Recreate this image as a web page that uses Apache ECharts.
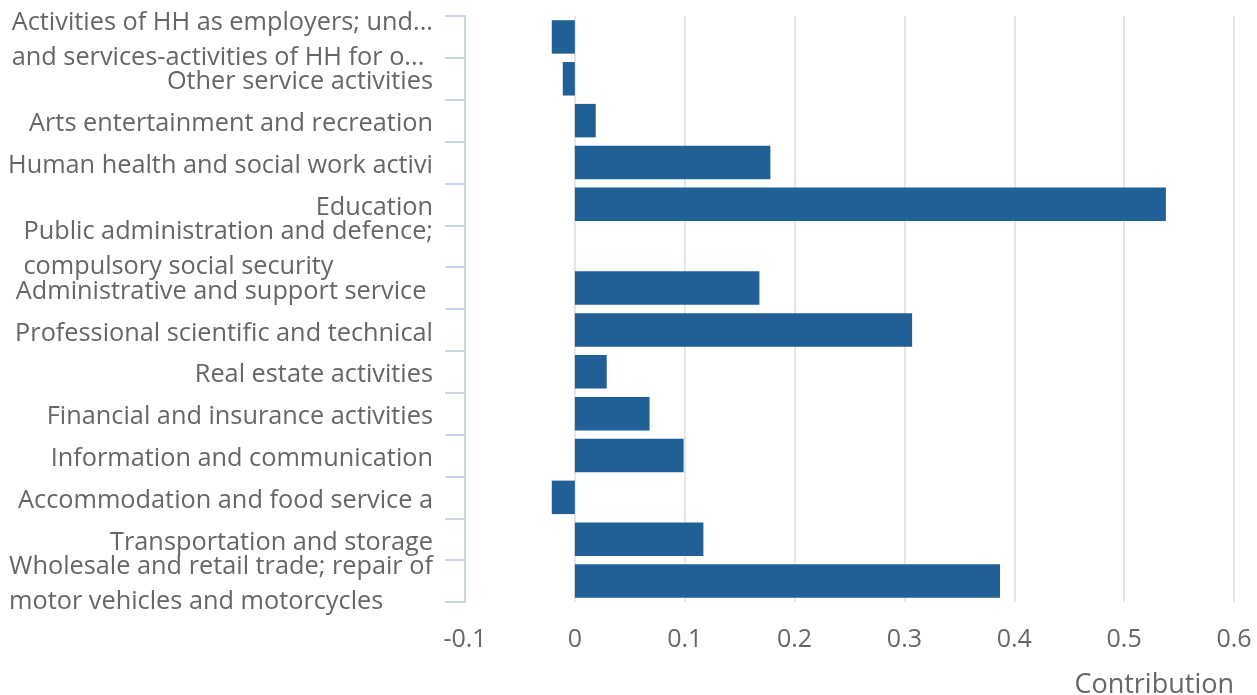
<!DOCTYPE html>
<html>
<head>
<meta charset="utf-8">
<script src="https://cdn.jsdelivr.net/npm/echarts@6/dist/echarts.min.js"></script>
<style>
html,body{margin:0;padding:0;background:#fff;}
#c{width:1257px;height:695px;}
</style>
</head>
<body>
<div id="c"></div>
<script>
const categories = [
  "Activities of HH as employers; und...\nand services-activities of HH for o...",
  "Other service activities",
  "Arts entertainment and recreation",
  "Human health and social work activities",
  "Education",
  "Public administration and defence;\ncompulsory social security",
  "Administrative and support service activities",
  "Professional scientific and technical activities",
  "Real estate activities",
  "Financial and insurance activities",
  "Information and communication",
  "Accommodation and food service activities",
  "Transportation and storage",
  "Wholesale and retail trade; repair of\nmotor vehicles and motorcycles"
];
const contribution = [-0.021, -0.011, 0.019, 0.178, 0.538, 0, 0.168, 0.307, 0.029, 0.068, 0.099, -0.021, 0.117, 0.387];
const xTicks = { min: -0.1, max: 0.6, interval: 0.1 };
const axisName = "Contribution";

const FONT = "'Open Sans', 'Noto Sans', sans-serif";
const LABEL_SIZE = 25.3;
const labelFont = LABEL_SIZE + "px " + FONT;
const chart = echarts.init(document.getElementById('c'));
chart.setOption({
  animation: false,
  grid: { left: 465, right: 23, top: 16, bottom: 93, containLabel: false, outerBoundsMode: 'none' },
  xAxis: {
    type: 'value',
    min: xTicks.min, max: xTicks.max, interval: xTicks.interval,
    name: axisName,
    nameLocation: 'end',
    nameGap: 0,
    nameTextStyle: { color: '#666', fontSize: 27, fontFamily: FONT, align: 'right', verticalAlign: 'top', padding: [70, 0, 0, 0] },
    axisLine: { show: false },
    axisTick: { show: false },
    axisLabel: { color: '#666', fontSize: 25, fontFamily: FONT, margin: 25,
      formatter: v => String(Math.round(v * 10) / 10) },
    splitLine: { show: true, lineStyle: { color: '#e6e6e6', width: 2 } }
  },
  yAxis: {
    type: 'category',
    inverse: true,
    data: categories,
    axisLine: { show: true, onZero: false, lineStyle: { color: '#ccd6eb', width: 2 } },
    axisTick: { show: true, length: 20, lineStyle: { color: '#ccd6eb', width: 2 } },
    splitLine: { show: false },
    axisLabel: {
      interval: 0,
      margin: 32,
      padding: [7, 0, 0, 0],
      color: '#666',
      fontSize: LABEL_SIZE,
      fontFamily: FONT,
      lineHeight: 35,
      formatter: function (val) {
        return val.split('\n').map(function (line) {
          const t = echarts.format.truncateText(line, 427, labelFont, '');
          return '{a|' + t + '}';
        }).join('\n');
      },
      rich: { a: { align: 'left', color: '#666', fontSize: LABEL_SIZE, fontFamily: FONT, lineHeight: 35 } }
    }
  },
  series: [{
    type: 'bar',
    data: contribution,
    barCategoryGap: '20%',
    itemStyle: { color: '#216096' }
  }]
});
</script>
</body>
</html>
